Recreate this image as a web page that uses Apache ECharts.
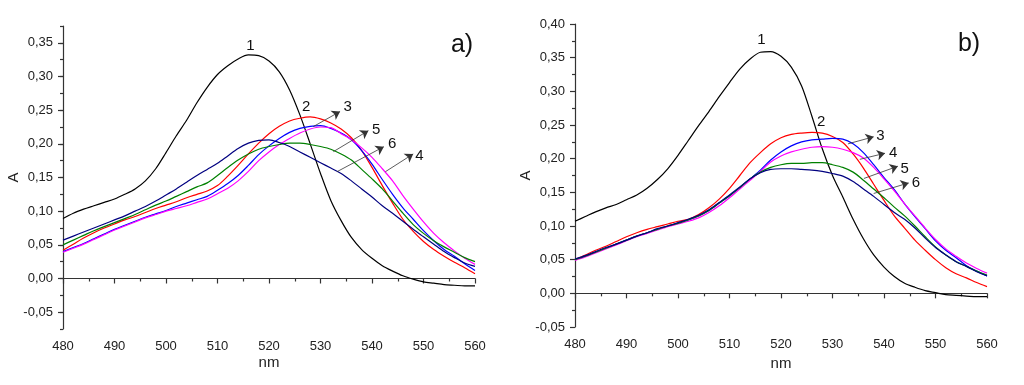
<!DOCTYPE html>
<html>
<head>
<meta charset="utf-8">
<script src="https://cdn.jsdelivr.net/npm/echarts@6/dist/echarts.min.js"></script>
<style>
html,body{margin:0;padding:0;background:#fff;}
#chart{width:1024px;height:385px;}
</style>
</head>
<body>
<div id="chart"></div>
<script>
// ---- data ----
const wavelengths = [480,482,484,486,488,490,492,494,496,498,500,502,504,506,508,510,512,514,516,518,520,522,524,526,528,530,532,534,536,538,540,542,544,546,548,550,552,554,556,558,560];

// panel a)
const aCurve1 = [0.089,0.097,0.103,0.108,0.113,0.118,0.125,0.133,0.145,0.163,0.187,0.212,0.235,0.261,0.284,0.303,0.316,0.326,0.332,0.331,0.323,0.307,0.280,0.243,0.200,0.156,0.116,0.086,0.061,0.043,0.030,0.019,0.011,0.004,-0.001,-0.005,-0.007,-0.009,-0.010,-0.011,-0.011];
const aCurve2 = [0.042,0.051,0.060,0.068,0.075,0.081,0.087,0.092,0.098,0.104,0.109,0.114,0.120,0.125,0.130,0.138,0.152,0.168,0.185,0.201,0.215,0.226,0.234,0.238,0.240,0.237,0.231,0.222,0.209,0.190,0.165,0.138,0.112,0.088,0.070,0.055,0.043,0.033,0.024,0.016,0.007];
const aCurve3 = [0.040,0.046,0.052,0.059,0.066,0.073,0.079,0.085,0.091,0.096,0.101,0.107,0.112,0.117,0.122,0.131,0.141,0.153,0.168,0.184,0.197,0.208,0.217,0.223,0.226,0.227,0.223,0.216,0.206,0.190,0.170,0.147,0.125,0.105,0.088,0.071,0.056,0.043,0.033,0.022,0.012];
const aCurve4 = [0.039,0.045,0.051,0.058,0.065,0.072,0.078,0.084,0.090,0.095,0.100,0.104,0.108,0.113,0.118,0.126,0.134,0.145,0.159,0.175,0.188,0.199,0.208,0.216,0.222,0.225,0.224,0.215,0.206,0.194,0.180,0.163,0.145,0.123,0.103,0.084,0.067,0.053,0.041,0.030,0.021];
const aCurve5 = [0.050,0.057,0.064,0.071,0.077,0.083,0.089,0.095,0.102,0.109,0.115,0.122,0.129,0.136,0.142,0.153,0.165,0.176,0.185,0.192,0.196,0.199,0.201,0.201,0.199,0.196,0.192,0.185,0.176,0.162,0.148,0.133,0.115,0.097,0.080,0.067,0.056,0.047,0.039,0.031,0.025];
const aCurve6 = [0.057,0.063,0.069,0.075,0.081,0.087,0.093,0.100,0.107,0.115,0.124,0.133,0.143,0.153,0.162,0.171,0.182,0.193,0.201,0.205,0.206,0.202,0.196,0.188,0.180,0.172,0.164,0.156,0.145,0.133,0.121,0.108,0.097,0.085,0.073,0.062,0.051,0.040,0.031,0.023,0.018];

// panel b)
const bCurve1 = [0.107,0.114,0.121,0.127,0.132,0.139,0.146,0.156,0.169,0.185,0.205,0.227,0.249,0.270,0.292,0.313,0.333,0.348,0.358,0.359,0.352,0.336,0.308,0.263,0.215,0.175,0.143,0.110,0.081,0.057,0.039,0.025,0.015,0.009,0.004,0.001,-0.002,-0.003,-0.004,-0.005,-0.005];
const bCurve2 = [0.050,0.057,0.064,0.070,0.077,0.084,0.090,0.095,0.099,0.103,0.107,0.110,0.117,0.127,0.140,0.156,0.175,0.194,0.209,0.222,0.231,0.236,0.238,0.239,0.238,0.233,0.224,0.207,0.186,0.162,0.138,0.115,0.097,0.079,0.064,0.050,0.038,0.029,0.023,0.016,0.010];
const bCurve3 = [0.050,0.055,0.061,0.067,0.073,0.079,0.085,0.090,0.095,0.100,0.104,0.109,0.115,0.123,0.134,0.145,0.157,0.170,0.183,0.198,0.210,0.219,0.225,0.228,0.229,0.230,0.229,0.222,0.209,0.191,0.172,0.154,0.133,0.114,0.096,0.078,0.064,0.053,0.041,0.033,0.026];
const bCurve4 = [0.049,0.054,0.060,0.066,0.072,0.078,0.084,0.089,0.094,0.099,0.103,0.107,0.112,0.120,0.130,0.142,0.155,0.168,0.181,0.195,0.204,0.210,0.214,0.217,0.218,0.217,0.214,0.209,0.201,0.187,0.170,0.152,0.133,0.115,0.097,0.080,0.066,0.055,0.045,0.037,0.030];
const bCurve5 = [0.050,0.055,0.061,0.067,0.073,0.079,0.085,0.090,0.095,0.100,0.104,0.109,0.115,0.123,0.134,0.145,0.157,0.170,0.180,0.187,0.191,0.193,0.193,0.194,0.194,0.191,0.187,0.180,0.168,0.155,0.142,0.128,0.115,0.100,0.084,0.069,0.057,0.047,0.040,0.033,0.027];
const bCurve6 = [0.051,0.056,0.062,0.068,0.073,0.079,0.085,0.090,0.096,0.100,0.105,0.110,0.116,0.124,0.135,0.146,0.158,0.170,0.179,0.184,0.185,0.185,0.184,0.183,0.181,0.178,0.174,0.166,0.155,0.144,0.132,0.120,0.110,0.097,0.082,0.068,0.057,0.047,0.040,0.032,0.026];

const curveColors = ['#000000','#ff0000','#0000ff','#ff00ff','#008000','#000080'];

// tick labels
const xTicks = [480,490,500,510,520,530,540,550,560];
const aYTicks = [-0.05,0,0.05,0.10,0.15,0.20,0.25,0.30,0.35];
const bYTicks = [-0.05,0,0.05,0.10,0.15,0.20,0.25,0.30,0.35,0.40];

// annotations: [text, nm, A] and arrows [fromNm, fromA, toNm, toA]
const aLabels = [['1',516.4,0.345],['2',527.2,0.255],['3',535.3,0.2545],['5',540.8,0.2207],['6',543.9,0.1999],['4',549.2,0.182]];
const aArrows = [[528.6,0.2256,533.8,0.248],[532.5,0.1884,539.3,0.2196],[533.2,0.1586,542.3,0.1958],[542.6,0.1586,548.0,0.185]];
const bLabels = [['1',516.2,0.376],['2',527.8,0.2548],['3',539.3,0.234],['4',541.8,0.208],['5',544.0,0.1854],['6',546.2,0.164]];
const bArrows = [[533.0,0.222,538.0,0.2325],[535.3,0.199,540.2,0.208],[536.1,0.1706,542.7,0.1888],[538.0,0.1483,544.8,0.164]];

// ---- chart ----
const FONT = "'Liberation Sans', Arial, sans-serif";
const TXT = '#222';
const AX = '#333';
const fmt = v => Number(v).toFixed(2).replace('.', ',');
const isMajor = (v, list) => list.some(t => Math.abs(t - v) < 1e-6);
const pairs = arr => wavelengths.map((w,i)=>[w,arr[i]]);

function xAxisFor(gi){
  return {
    type:'value', gridIndex:gi, min:480, max:560, interval:10,
    axisLine:{show:true, lineStyle:{color:AX, width:1.2}},
    axisTick:{show:true, length:5, lineStyle:{color:AX, width:1.2}},
    minorTick:{show:true, splitNumber:2, length:3, lineStyle:{color:AX, width:1.2}},
    splitLine:{show:false}, minorSplitLine:{show:false},
    axisLabel:{color:TXT, fontSize:13, fontFamily:FONT, margin:11, customValues: xTicks},
    name:'nm', nameLocation:'middle', nameGap: gi===0 ? 26 : 29, nameMoveOverlap:false,
    nameTextStyle:{color:TXT, fontSize:15, fontFamily:FONT}
  };
}

function markFor(labels, arrows){
  return {
    markPoint:{
      silent:true, animation:false,
      symbol:'rect', symbolSize:1,
      itemStyle:{color:'rgba(0,0,0,0)'},
      label:{show:true, position:'inside', formatter:'{b}', color:'#111', fontSize:15, fontFamily:FONT},
      data: labels.map(l=>({name:l[0], coord:[l[1],l[2]]}))
    },
    markLine:{
      silent:true, animation:false,
      symbol:['none','arrow'], symbolSize:8,
      lineStyle:{color:'#333', width:0.8, type:'solid'},
      label:{show:false},
      emphasis:{disabled:true},
      data: arrows.map(a=>[{coord:[a[0],a[1]]},{coord:[a[2],a[3]]}])
    }
  };
}

function seriesFor(gi, curves, labels, arrows){
  return curves.map((c,i)=>Object.assign({
    type:'line', name:String(i+1), xAxisIndex:gi, yAxisIndex: gi===0 ? 0 : 2,
    data: pairs(c), smooth:0.3, showSymbol:false, symbol:'none',
    lineStyle:{color:curveColors[i], width:1.2},
    itemStyle:{color:curveColors[i]},
    animation:false, z: 2
  }, i===0 ? markFor(labels, arrows) : {}));
}

const option = {
  backgroundColor:'#fff',
  animation:false,
  grid:[
    {left:63, right:549, top:26, bottom:56},
    {left:575, right:37, top:24, bottom:58}
  ],
  xAxis:[xAxisFor(0), xAxisFor(1)],
  yAxis:[
    {
      // minor ticks every 0.025, labels only on the 0.05 steps
      type:'value', gridIndex:0, position:'left', min:-0.075, max:0.375, interval:0.025,
      axisLine:{show:true, lineStyle:{color:AX, width:1.2}},
      axisTick:{show:true, length:3, lineStyle:{color:AX, width:1.2}},
      splitLine:{show:false},
      axisLabel:{color:TXT, fontSize:13, fontFamily:FONT, margin:10, showMinLabel:true, showMaxLabel:true,
        formatter: v => isMajor(v, aYTicks) ? fmt(v) : ''},
      name:'A', nameLocation:'middle', nameGap:42, nameMoveOverlap:false,
      nameTextStyle:{color:TXT, fontSize:15, fontFamily:FONT}
    },
    {
      // longer major ticks
      type:'value', gridIndex:0, position:'left', offset:0, min:-0.075, max:0.375,
      axisLine:{show:false},
      axisTick:{show:true, length:5, lineStyle:{color:AX, width:1.2}, customValues:aYTicks},
      splitLine:{show:false},
      axisLabel:{show:true, formatter:()=>'', customValues:aYTicks}
    },
    {
      type:'value', gridIndex:1, position:'left', min:-0.05, max:0.40, interval:0.05,
      axisLine:{show:true, lineStyle:{color:AX, width:1.2}},
      axisTick:{show:true, length:5, lineStyle:{color:AX, width:1.2}},
      minorTick:{show:true, splitNumber:2, length:3, lineStyle:{color:AX, width:1.2}},
      splitLine:{show:false}, minorSplitLine:{show:false},
      axisLabel:{color:TXT, fontSize:13, fontFamily:FONT, margin:10, formatter:fmt, customValues:bYTicks},
      name:'A', nameLocation:'middle', nameGap:42, nameMoveOverlap:false,
      nameTextStyle:{color:TXT, fontSize:15, fontFamily:FONT}
    }
  ],
  graphic:[
    {type:'text', x:462, y:45, style:{text:'a)', fontSize:25, fontFamily:FONT, fill:'#111', align:'center', verticalAlign:'middle'}},
    {type:'text', x:969, y:44, style:{text:'b)', fontSize:25, fontFamily:FONT, fill:'#111', align:'center', verticalAlign:'middle'}}
  ],
  series: [].concat(
    seriesFor(0, [aCurve1,aCurve2,aCurve3,aCurve4,aCurve5,aCurve6], aLabels, aArrows),
    seriesFor(1, [bCurve1,bCurve2,bCurve3,bCurve4,bCurve5,bCurve6], bLabels, bArrows)
  )
};

const chart = echarts.init(document.getElementById('chart'), null, {renderer:'canvas'});
chart.setOption(option);
</script>
</body>
</html>
